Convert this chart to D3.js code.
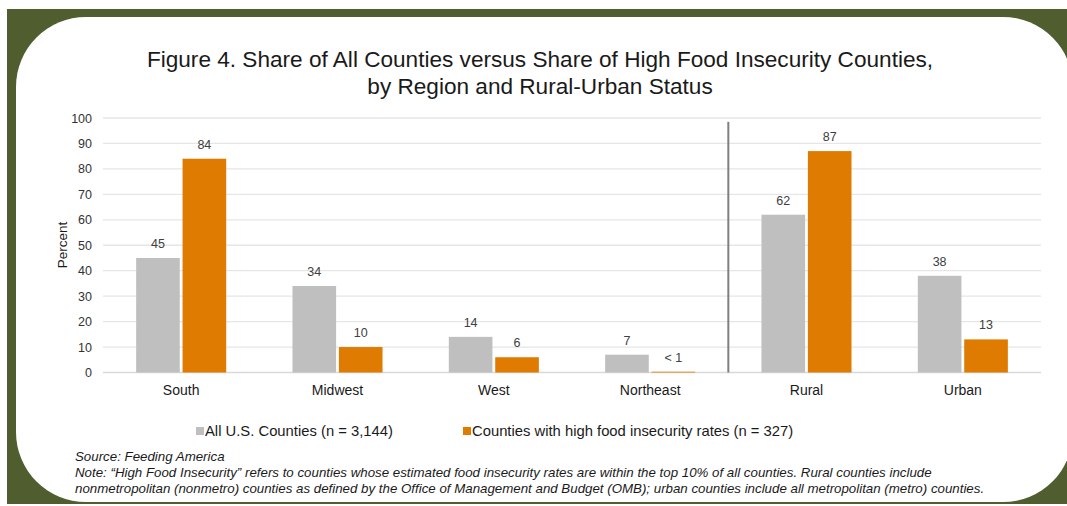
<!DOCTYPE html>
<html>
<head>
<meta charset="utf-8">
<script src="https://cdn.jsdelivr.net/npm/d3@7"></script>
<style>
  html, body { margin: 0; padding: 0; background: #ffffff; }
  svg { display: block; }
  text { font-family: "Liberation Sans", Arial, sans-serif; }
</style>
</head>
<body>
<svg id="chart" width="1067" height="506"></svg>
<script>
// ---- Data ----
const categories = ["South", "Midwest", "West", "Northeast", "Rural", "Urban"];
const seriesNames = ["All U.S. Counties (n = 3,144)", "Counties with high food insecurity rates (n = 327)"];
const allCounties = [45, 34, 14, 7, 62, 38];
const highInsecurity = [84, 10, 6, 0.3, 87, 13];
const allLabels = ["45", "34", "14", "7", "62", "38"];
const highLabels = ["84", "10", "6", "< 1", "87", "13"];
const yTicks = [0, 10, 20, 30, 40, 50, 60, 70, 80, 90, 100];
const seriesColors = ["#bfbfbf", "#df7b00"];
const titleLines = [
  "Figure 4. Share of All Counties versus Share of High Food Insecurity Counties,",
  "by Region and Rural-Urban Status"
];
const sourceText = "Source: Feeding America";
const noteLines = [
  "Note: \u201cHigh Food Insecurity\u201d refers to counties whose estimated food insecurity rates are within the top 10% of all counties. Rural counties include",
  "nonmetropolitan (nonmetro) counties as defined by the Office of Management and Budget (OMB); urban counties include all metropolitan (metro) counties."
];

const svg = d3.select("#chart");

// ---- Frame ----
svg.append("rect").attr("x", 7).attr("y", 9).attr("width", 1060).attr("height", 495).attr("fill", "#4f5d2f");
svg.append("rect").attr("x", 16).attr("y", 17).attr("width", 1057).attr("height", 485)
  .attr("rx", 70).attr("ry", 70).attr("fill", "#ffffff");

// ---- Scales ----
const plotLeft = 103, plotRight = 1041, plotTop = 118, plotBottom = 372.5;
const x0 = d3.scaleBand().domain(categories).range([plotLeft, plotRight]).paddingInner(0.424).paddingOuter(0.212);
const x1 = d3.scaleBand().domain([0, 1]).range([0, x0.bandwidth()]).paddingInner(0.06);
const y = d3.scaleLinear().domain([0, 100]).range([plotBottom, plotTop]);

// ---- Title ----
svg.append("g").selectAll("text").data(titleLines).join("text")
  .attr("x", 540).attr("y", (d, i) => 67 + i * 27)
  .attr("text-anchor", "middle").attr("font-size", 22.6).attr("fill", "#1a1a1a")
  .text(d => d);

// ---- Grid ----
const grid = svg.append("g");
grid.selectAll("line").data(yTicks).join("line")
  .attr("x1", plotLeft).attr("x2", plotRight)
  .attr("y1", d => y(d)).attr("y2", d => y(d))
  .attr("stroke", d => d === 0 ? "#d9d9d9" : "#e6e6e6").attr("stroke-width", 1.3);

// ---- Y axis ----
const yAxis = d3.axisLeft(y).tickValues(yTicks).tickSize(0).tickPadding(0);
const gy = svg.append("g").attr("transform", `translate(${92},0)`).call(yAxis);
gy.select(".domain").remove();
gy.selectAll("text").attr("font-size", 12.5).attr("fill", "#333").attr("font-family", "Liberation Sans, Arial, sans-serif");

svg.append("text").attr("transform", `translate(67,${245}) rotate(-90)`)
  .attr("text-anchor", "middle").attr("font-size", 13.5).attr("fill", "#1a1a1a").text("Percent");

// ---- X axis labels ----
const xAxis = d3.axisBottom(x0).tickSize(0).tickPadding(0);
const gx = svg.append("g").attr("transform", `translate(0,${plotBottom + 10})`).call(xAxis);
gx.select(".domain").remove();
gx.selectAll("text").attr("font-size", 14).attr("fill", "#1a1a1a").attr("font-family", "Liberation Sans, Arial, sans-serif")
  .attr("dy", "0.9em");

// ---- Bars ----
const seriesValues = [allCounties, highInsecurity];
const seriesLabels = [allLabels, highLabels];
const barsG = svg.append("g");
seriesValues.forEach((vals, s) => {
  barsG.append("g").selectAll("rect").data(vals).join("rect")
    .attr("x", (d, i) => x0(categories[i]) + x1(s))
    .attr("width", x1.bandwidth())
    .attr("y", d => y(d))
    .attr("height", d => y(0) - y(d))
    .attr("fill", seriesColors[s]);
  barsG.append("g").selectAll("text").data(vals).join("text")
    .attr("x", (d, i) => x0(categories[i]) + x1(s) + x1.bandwidth() / 2)
    .attr("y", d => y(d) - 10)
    .attr("text-anchor", "middle").attr("font-size", 12.5).attr("fill", "#404040")
    .text((d, i) => seriesLabels[s][i]);
});

// ---- Separator ----
const sepX = x0("Rural") - (x0.step() - x0.bandwidth()) / 2;
svg.append("line").attr("x1", sepX).attr("x2", sepX).attr("y1", y(98.5)).attr("y2", y(0))
  .attr("stroke", "#7f7f7f").attr("stroke-width", 2);

// ---- Legend ----
const legendX = [196, 463];
const legend = svg.append("g");
seriesNames.forEach((name, s) => {
  legend.append("rect").attr("x", legendX[s]).attr("y", 427).attr("width", 8).attr("height", 8).attr("fill", seriesColors[s]);
  legend.append("text").attr("x", legendX[s] + 9).attr("y", 436).attr("font-size", 14.8).attr("fill", "#1a1a1a").text(name);
});

// ---- Source & note ----
const foot = svg.append("g").attr("font-style", "italic").attr("font-size", 13.3).attr("fill", "#1a1a1a");
foot.append("text").attr("x", 75).attr("y", 461).text(sourceText);
foot.selectAll("text.note").data(noteLines).join("text").attr("class", "note")
  .attr("x", 75).attr("y", (d, i) => 477 + i * 16).text(d => d);
</script>
</body>
</html>
